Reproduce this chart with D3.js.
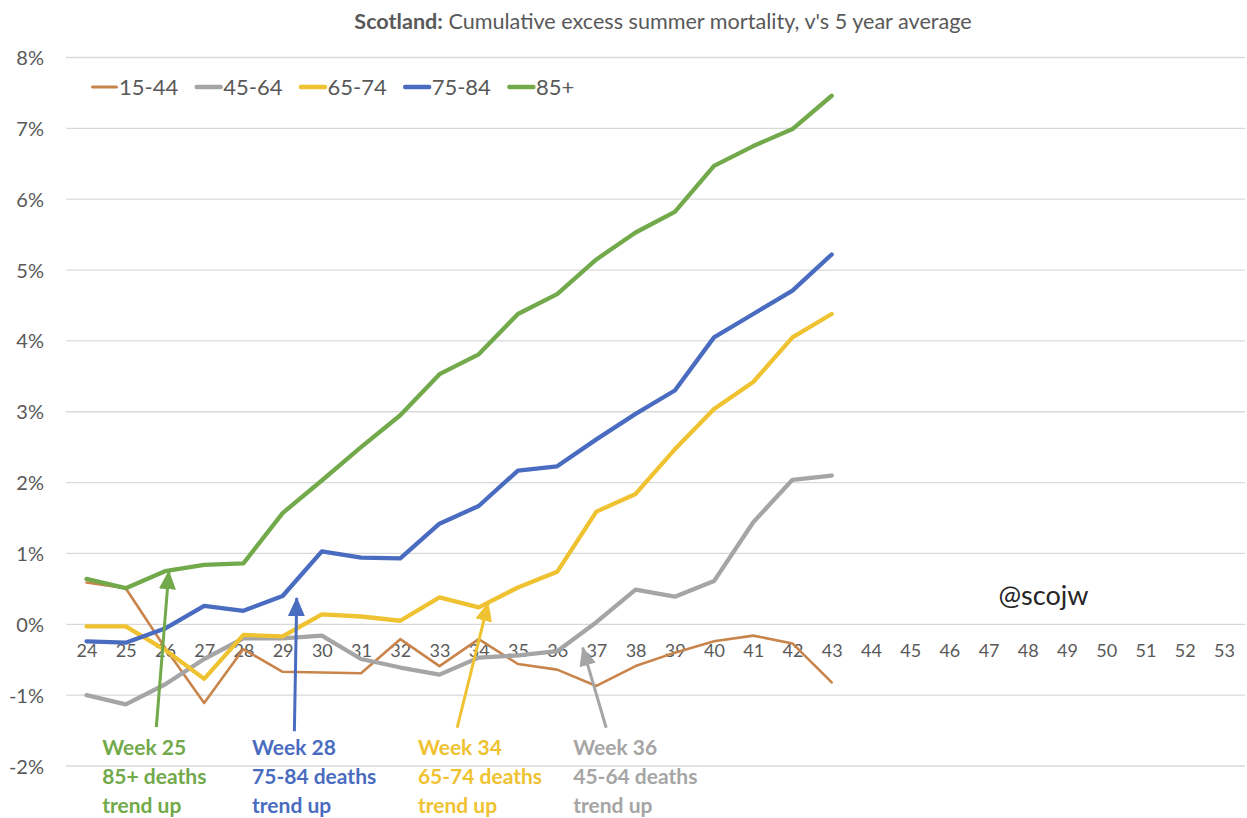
<!DOCTYPE html>
<html>
<head>
<meta charset="utf-8">
<script src="https://cdn.jsdelivr.net/npm/d3@7/dist/d3.min.js"></script>
<style>
  html, body { margin: 0; padding: 0; background: #fff; }
  svg { display: block; font-family: Lato, "Open Sans", sans-serif; }
</style>
</head>
<body>
<svg id="chart" width="1247" height="818"></svg>
<script>
// ---- data ----
const weeks = ["24","25","26","27","28","29","30","31","32","33","34","35","36","37","38","39","40","41","42","43","44","45","46","47","48","49","50","51","52","53"];
const dataWeeks = weeks.slice(0, 20); // 24..43
const s1544 = [0.59,0.51,-0.33,-1.11,-0.35,-0.67,-0.68,-0.69,-0.21,-0.59,-0.21,-0.56,-0.64,-0.87,-0.59,-0.40,-0.24,-0.16,-0.27,-0.82];
const s4564 = [-1.00,-1.13,-0.85,-0.49,-0.20,-0.20,-0.16,-0.49,-0.61,-0.71,-0.47,-0.44,-0.38,0.03,0.49,0.39,0.61,1.44,2.04,2.10];
const s6574 = [-0.03,-0.03,-0.36,-0.77,-0.15,-0.17,0.14,0.11,0.05,0.38,0.24,0.52,0.74,1.59,1.84,2.47,3.04,3.42,4.05,4.38];
const s7584 = [-0.24,-0.26,-0.06,0.26,0.19,0.40,1.03,0.94,0.93,1.42,1.67,2.17,2.23,2.61,2.97,3.30,4.05,4.38,4.71,5.22];
const s85 = [0.64,0.51,0.75,0.84,0.86,1.57,2.03,2.50,2.95,3.53,3.81,4.38,4.66,5.15,5.53,5.82,6.47,6.75,6.99,7.46];
const seriesNames = ["15-44","45-64","65-74","75-84","85+"];
const seriesValues = [s1544, s4564, s6574, s7584, s85];
const seriesColors = ["#C8844A","#A5A5A5","#EFC232","#4A6CC0","#72A94A"];
const seriesWidths = [2.6, 4.3, 4.3, 4.3, 4.3];
const yTicks = [-2,-1,0,1,2,3,4,5,6,7,8];

// annotations: arrow tip / tail in (week, value) units, label lines
const annotations = [
  { tip: [26.10, 0.75], tail: [25.78, -1.45], textWeek: 24.40, color: "#72A94A", lines: ["Week 25","85+ deaths","trend up"] },
  { tip: [29.36, 0.37], tail: [29.30, -1.51], textWeek: 28.22, color: "#4A6CC0", lines: ["Week 28","75-84 deaths","trend up"] },
  { tip: [34.24, 0.30], tail: [33.45, -1.46], textWeek: 32.45, color: "#EFC232", lines: ["Week 34","65-74 deaths","trend up"] },
  { tip: [36.65, -0.33], tail: [37.25, -1.46], textWeek: 36.41, color: "#A5A5A5", lines: ["Week 36","45-64 deaths","trend up"] }
];
const annotationTextValue = -1.74;

// ---- layout ----
const svg = d3.select("#chart");
const x = d3.scalePoint().domain(weeks).range([66.9, 1243.5]).padding(0.5);
const xLin = d3.scaleLinear().domain([24, 53]).range([x("24"), x("53")]);
const y = d3.scaleLinear().domain([-2, 8]).range([766, 57.5]);

// title
const title = svg.append("text")
  .attr("x", 663).attr("y", 29)
  .attr("text-anchor", "middle")
  .attr("fill", "#595959")
  .style("font-size", "21.6px");
title.append("tspan").attr("font-weight", "bold").text("Scotland:");
title.append("tspan").text(" Cumulative excess summer mortality, v's 5 year average");

// gridlines
svg.append("g").selectAll("line").data(yTicks).join("line")
  .attr("x1", 66).attr("x2", 1245)
  .attr("y1", d => y(d)).attr("y2", d => y(d))
  .attr("stroke", "#D9D9D9").attr("stroke-width", 1.3);

// y axis labels
const yAxis = d3.axisLeft(y).tickValues(yTicks).tickFormat(d => d + "%").tickSize(0).tickPadding(0);
const gy = svg.append("g").attr("transform", "translate(44,0)").call(yAxis);
gy.select(".domain").remove();
gy.selectAll("text").attr("fill", "#595959").style("font-size", "20px").style("font-family", "Lato, sans-serif").attr("dy", "0.35em");

// x axis labels (sit just under the 0% line)
const xAxis = d3.axisBottom(x).tickSize(0).tickPadding(0);
const gx = svg.append("g").attr("transform", `translate(0,${y(0)})`).call(xAxis);
gx.select(".domain").remove();
gx.selectAll("text").attr("fill", "#595959").style("font-size", "18px").style("font-family", "Lato, sans-serif").attr("dy", "0").attr("y", 33);

// series
const line = d3.line().x((d, i) => x(dataWeeks[i])).y(d => y(d));
seriesValues.forEach((vals, k) => {
  svg.append("path")
    .datum(vals)
    .attr("d", line)
    .attr("fill", "none")
    .attr("stroke", seriesColors[k])
    .attr("stroke-width", seriesWidths[k])
    .attr("stroke-linejoin", "round")
    .attr("stroke-linecap", "round");
});

// legend
const legend = svg.append("g").attr("transform", "translate(91,87)");
let lx = 0;
seriesNames.forEach((name, k) => {
  legend.append("line")
    .attr("x1", lx + 1.5).attr("x2", lx + 25.5).attr("y1", 0).attr("y2", 0)
    .attr("stroke", seriesColors[k]).attr("stroke-width", k === 0 ? 3 : 4.5)
    .attr("stroke-linecap", "round");
  const t = legend.append("text")
    .attr("x", lx + 28).attr("y", 0).attr("dy", "0.35em")
    .attr("fill", "#595959").style("font-size", "22px").text(name);
  lx += 28 + t.node().getComputedTextLength() + 17;
});

// watermark
svg.append("text")
  .attr("x", xLin(48.4)).attr("y", 596).attr("dy", "0.35em")
  .attr("text-anchor", "middle")
  .attr("fill", "#262626").style("font-size", "27px").text("@scojw");

// annotations
const defs = svg.append("defs");
annotations.forEach((a, i) => {
  defs.append("marker")
    .attr("id", "ah" + i)
    .attr("markerUnits", "userSpaceOnUse")
    .attr("viewBox", "0 0 19 17")
    .attr("refX", 18).attr("refY", 8.5)
    .attr("markerWidth", 19).attr("markerHeight", 17)
    .attr("orient", "auto")
    .append("path").attr("d", "M0,0 L19,8.5 L0,17 Z").attr("fill", a.color);
  svg.append("line")
    .attr("x1", xLin(a.tail[0])).attr("y1", y(a.tail[1]))
    .attr("x2", xLin(a.tip[0])).attr("y2", y(a.tip[1]))
    .attr("stroke", a.color).attr("stroke-width", 3)
    .attr("marker-end", `url(#ah${i})`);
  const t = svg.append("text")
    .attr("x", xLin(a.textWeek)).attr("y", y(annotationTextValue))
    .attr("fill", a.color).attr("font-weight", "bold").style("font-size", "21px");
  a.lines.forEach((ln, j) => {
    t.append("tspan").attr("x", xLin(a.textWeek)).attr("dy", j === 0 ? "0.35em" : "29px").text(ln);
  });
});
</script>
</body>
</html>
